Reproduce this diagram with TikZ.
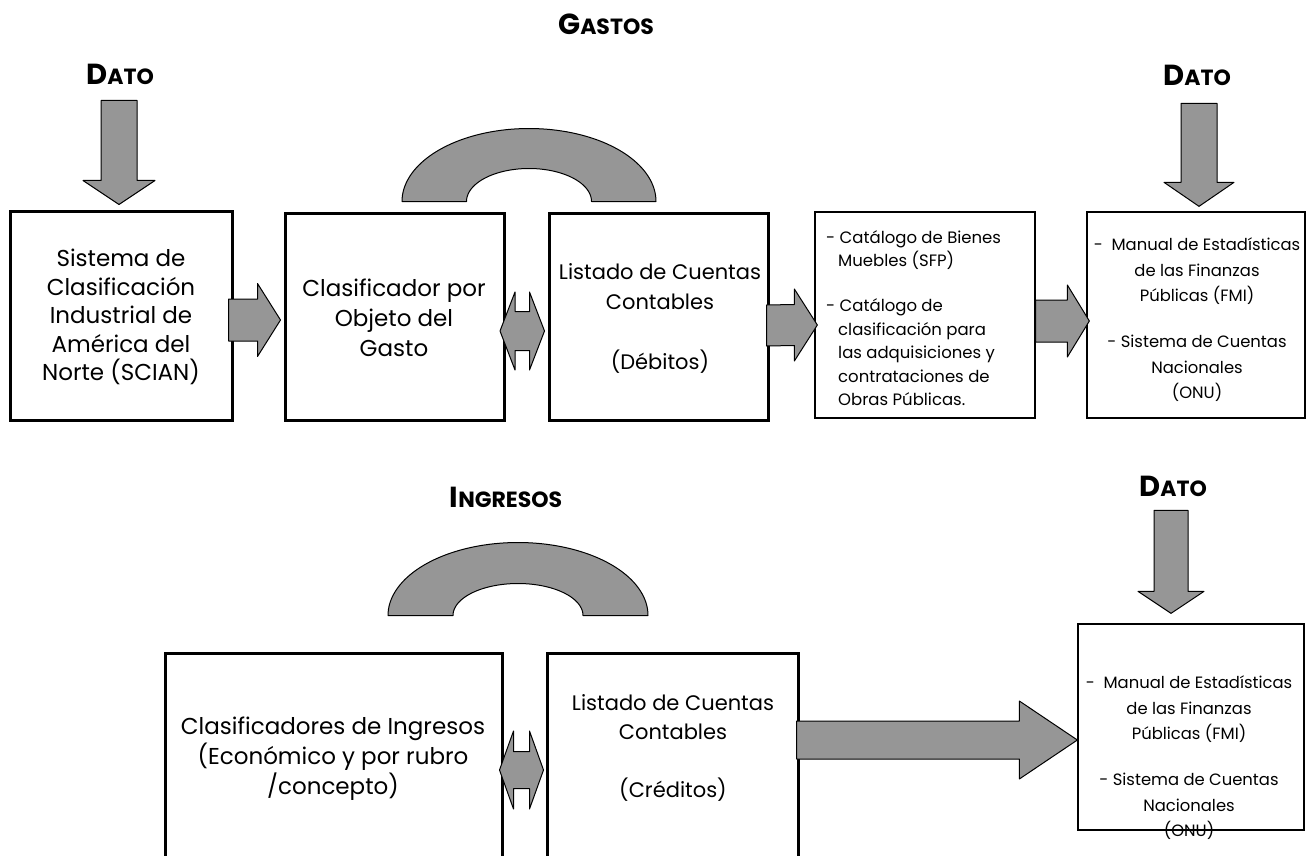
\documentclass[tikz,border=0pt]{standalone}
\usepackage{fontspec}
\setmainfont{Poppins}
\usetikzlibrary{calc}
\definecolor{arrowgray}{RGB}{150,150,150}
\tikzset{
  blk/.style={draw=black, fill=arrowgray, line width=1pt, line join=round},
  thickbox/.style={draw=black, line width=3pt, inner sep=0pt, fill=white},
  thinbox/.style={draw=black, line width=1.3pt, inner sep=0pt, fill=white},
  bodytext/.style={align=center, inner sep=0pt, font=\fontsize{23}{29}\selectfont},
  smalltext/.style={inner sep=0pt, font=\fontsize{16.4}{25.5}\selectfont},
  title/.style={inner sep=0pt, font=\bfseries}
}
\newcommand\BlkRight[5]{\draw[blk] ($(#1)+(0,-#4)$) -- ($(#2)+(-#3,-#4)$) -- ($(#2)+(-#3,-#5)$) -- (#2) -- ($(#2)+(-#3,#5)$) -- ($(#2)+(-#3,#4)$) -- ($(#1)+(0,#4)$) -- cycle;}
\newcommand\BlkDown[5]{\draw[blk] ($(#1)+(-#4,0)$) -- ($(#2)+(-#4,-#3)$) -- ($(#2)+(-#5,-#3)$) -- (#2) -- ($(#2)+(#5,-#3)$) -- ($(#2)+(#4,-#3)$) -- ($(#1)+(#4,0)$) -- cycle;}
\newcommand\BlkDouble[5]{\draw[blk] (#1) -- ($(#1)+(#3,-#5)$) -- ($(#1)+(#3,-#4)$) -- ($(#2)+(-#3,-#4)$) -- ($(#2)+(-#3,-#5)$) -- (#2) -- ($(#2)+(-#3,#5)$) -- ($(#2)+(-#3,#4)$) -- ($(#1)+(#3,#4)$) -- ($(#1)+(#3,#5)$) -- cycle;}
\newcommand\BlkArc[5]{\draw[blk, shift={(#1)}] plot[domain=180:360, samples=80] ({#2*cos(\x)},{#3*sin(\x)}) -- plot[domain=360:180, samples=80] ({#4*cos(\x)},{#5*sin(\x)}) -- cycle;}
\newcommand\SC[2]{{\fontsize{29}{29}\selectfont #1}{\fontsize{22}{22}\selectfont #2}}
\begin{document}
\begin{tikzpicture}[x=1pt, y=-1pt]
\useasboundingbox (0,0) rectangle (1307,856);
% titles
\node[title] (tg) at (606,24) {\SC{G}{ASTOS}};
\node[title] (td1) at (120,74) {\SC{D}{ATO}};
\node[title] (td2) at (1197,75) {\SC{D}{ATO}};
\node[title] (ti) at (506,497) {\SC{I}{NGRESOS}};
\node[title] (td3) at (1173,486) {\SC{D}{ATO}};
% top row boxes
\node[thickbox, minimum width=222pt, minimum height=209pt] (b1) at (121,315.5) {};
\node[thickbox, minimum width=219pt, minimum height=207pt] (b2) at (394.5,316.5) {};
\node[thickbox, minimum width=219pt, minimum height=207pt] (b3) at (658.5,316.5) {};
\node[thinbox, minimum width=220pt, minimum height=206pt] (b4) at (925,315) {};
\node[thinbox, minimum width=218pt, minimum height=206pt] (b5) at (1196,315) {};
% bottom row boxes
\node[thickbox, minimum width=337pt, minimum height=217pt] (b6) at (333.5,761.5) {};
\node[thickbox, minimum width=251pt, minimum height=217pt] (b7) at (672.5,761.5) {};
\node[thinbox, minimum width=226pt, minimum height=206pt] (b8) at (1191,727) {};
% texts
\node[bodytext, font=\fontsize{23}{28.5}\selectfont] (t1) at (121,317) {Sistema de\\Clasificación\\Industrial de\\América del\\Norte (SCIAN)};
\node[bodytext, font=\fontsize{23}{30}\selectfont] (t2) at (394,318) {Clasificador por\\Objeto del\\Gasto};
\node[bodytext, font=\fontsize{21}{30}\selectfont] (t3) at (660,318) {Listado de Cuentas\\Contables\\[30pt](Débitos)};
\node[smalltext, align=left, anchor=west, font=\fontsize{16.5}{23.5}\selectfont] (t4) at (826,318) {- Catálogo de Bienes\\\hspace*{12pt}Muebles (SFP)\\[21.5pt]- Catálogo de\\\hspace*{12pt}clasificación para\\\hspace*{12pt}las adquisiciones y\\\hspace*{12pt}contrataciones de\\\hspace*{12pt}Obras Públicas.};
\node[smalltext, align=center] (t5) at (1197,320) {-\ \ Manual de Estadísticas\\de las Finanzas\\Públicas (FMI)\\[20.5pt]- Sistema de Cuentas\\Nacionales\\(ONU)};
\node[bodytext, font=\fontsize{23}{30}\selectfont] (t6) at (333,759) {Clasificadores de Ingresos\\(Económico y por rubro\\/concepto)};
\node[bodytext, font=\fontsize{21}{29}\selectfont] (t7) at (673,748) {Listado de Cuentas\\Contables\\[29pt](Créditos)};
\node[smalltext, align=center] (t8) at (1189,758) {-\ \ Manual de Estadísticas\\de las Finanzas\\Públicas (FMI)\\[20.5pt]- Sistema de Cuentas\\Nacionales\\(ONU)};
% down arrows
\BlkDown{$(b1.north)+(-2,-109)$}{$(b1.north)+(-2,-5)$}{24}{18}{36}
\BlkDown{$(b5.north)+(3,-108)$}{$(b5.north)+(3,-5)$}{24}{18}{35}
\BlkDown{$(b8.north)+(-20,-113)$}{$(b8.north)+(-20,-10)$}{22}{17}{33}
% right arrows
\BlkRight{$(b1.east)+(-5,4.5)$}{$(b2.west)+(-3,3.5)$}{23}{21}{36.5}
\BlkRight{$(b3.east)+(-3,9)$}{$(b4.west)+(3,10)$}{23}{20.5}{36}
\BlkRight{$(b4.east)+(0,6)$}{$(b5.west)+(3,6)$}{22}{21}{36}
\BlkRight{$(b7.east)+(-3,-21.5)$}{$(b8.west)+(0,13)$}{58}{19}{39}
% double arrows
\BlkDouble{$(b2.east)+(-5.5,14.5)$}{$(b3.west)+(-3,14.5)$}{15}{19.5}{39}
\BlkDouble{$(b6.east)+(-4,8.5)$}{$(b7.west)+(-2,8.5)$}{14}{18.5}{39}
% block arcs
\coordinate (arc1) at ($(b2.north)!0.5!(b3.north)+(2.5,-10)$);
\coordinate (arc2) at ($(b6.north east)!0.5!(b7.north west)+(-6.5,-36)$);
\BlkArc{arc1}{127}{73}{62.5}{33}
\BlkArc{arc2}{130}{73}{65}{32}
\end{tikzpicture}
\end{document}
